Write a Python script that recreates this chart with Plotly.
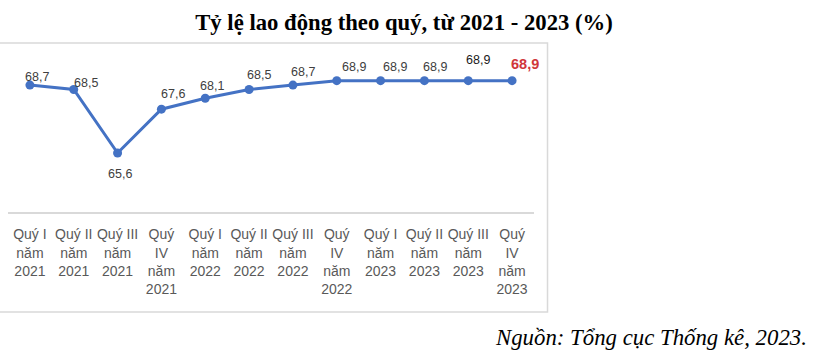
import plotly.graph_objects as go

categories = [
    "Quý I<br>năm<br>2021", "Quý II<br>năm<br>2021", "Quý III<br>năm<br>2021", "Quý<br>IV<br>năm<br>2021",
    "Quý I<br>năm<br>2022", "Quý II<br>năm<br>2022", "Quý III<br>năm<br>2022", "Quý<br>IV<br>năm<br>2022",
    "Quý I<br>năm<br>2023", "Quý II<br>năm<br>2023", "Quý III<br>năm<br>2023", "Quý<br>IV<br>năm<br>2023",
]
values = [68.7, 68.5, 65.6, 67.6, 68.1, 68.5, 68.7, 68.9, 68.9, 68.9, 68.9, 68.9]
value_labels = ["68,7", "68,5", "65,6", "67,6", "68,1", "68,5", "68,7", "68,9", "68,9", "68,9", "68,9", "68,9"]

# label styling (offsets in pixels)
label_dx = [7, 12, 2, 12, 7, 10, 10, 17, 14, 11, 10, 13]
label_dy = [8, 6, -21, 15, 12, 14, 13, 14, 14, 14, 21, 17]
label_color = ["#404040"] * 10 + ["#1a1a1a", "#d0363b"]
label_size = [12.5] * 11 + [14.5]
label_bold = [False] * 11 + [True]

xs = list(range(len(categories)))

fig = go.Figure()
fig.add_trace(go.Scatter(
    x=xs, y=values, mode="lines+markers",
    line=dict(color="#4472C4", width=3),
    marker=dict(color="#4472C4", size=9),
    hoverinfo="skip", showlegend=False,
))

for i, (v, t) in enumerate(zip(values, value_labels)):
    fig.add_annotation(
        x=i, y=v, text=("<b>%s</b>" % t) if label_bold[i] else t,
        showarrow=False, xshift=label_dx[i], yshift=label_dy[i],
        font=dict(family="Liberation Sans, Arial, sans-serif", size=label_size[i], color=label_color[i]),
    )

# outer chart border
fig.add_shape(type="rect", xref="paper", yref="paper",
              x0=-0.02, x1=1.0257, y0=-0.617, y1=1.043,
              line=dict(color="#d9d9d9", width=1.5), layer="below")

fig.add_annotation(
    xref="paper", yref="paper", x=(809 - 8) / 526, y=(212 - 337) / 162, xanchor="right", yanchor="middle",
    text="Nguồn: Tổng cục Thống kê, 2023.", showarrow=False,
    font=dict(family="Liberation Serif", size=22.8, color="#000000", style="italic"),
)

fig.update_layout(
    width=817, height=360,
    margin=dict(l=8, r=283, t=50, b=148, autoexpand=False),
    paper_bgcolor="white", plot_bgcolor="white",
    title=dict(
        text="<b>Tỷ lệ lao động theo quý, từ 2021 - 2023 (%)</b>",
        xref="container", yref="container", x=404 / 817, y=1 - 22 / 360,
        xanchor="center", yanchor="middle",
        font=dict(family="Times New Roman, Liberation Serif, serif", size=22.7, color="#000000"),
    ),
    xaxis=dict(
        tickmode="array", tickvals=xs, ticktext=categories,
        range=[-0.5, 11.5], showgrid=False, zeroline=False, automargin=False,
        showline=True, linecolor="#d9d9d9", linewidth=1.5,
        ticks="outside", ticklen=9, tickcolor="rgba(0,0,0,0)",
        tickfont=dict(family="Liberation Sans, Arial, sans-serif", size=14, color="#595959"),
        fixedrange=True,
    ),
    yaxis=dict(
        range=[62.91, 70.30], visible=False, showgrid=False, zeroline=False, fixedrange=True,
        automargin=False,
    ),
)

fig.write_html("out.html", config={"displayModeBar": False, "staticPlot": True},
               post_script="document.body.style.margin='0';")
